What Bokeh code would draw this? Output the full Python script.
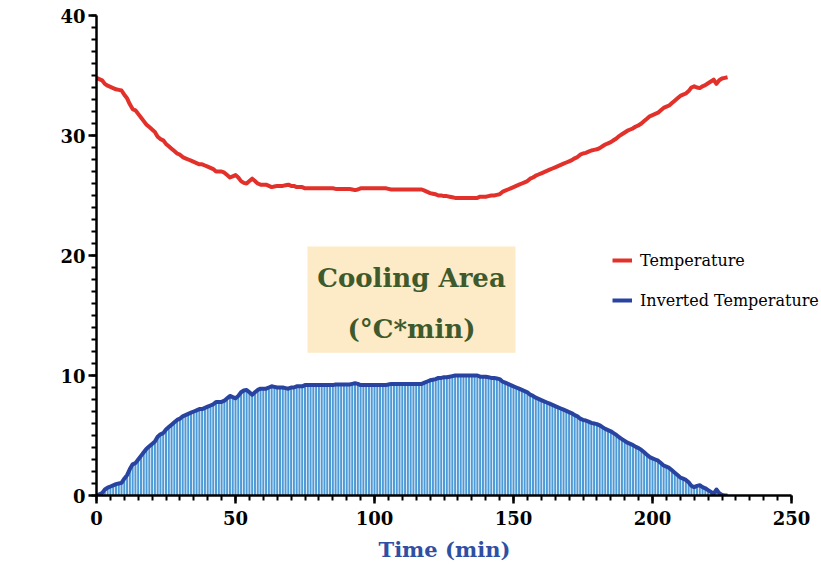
from bokeh.plotting import figure
from bokeh.models import (ColumnDataSource, SingleIntervalTicker, BoxAnnotation, Label, Range1d,
                          Legend, LegendItem, Title)
from bokeh.embed import file_html
from bokeh.resources import INLINE

# ---- data ----
time_min = list(range(0, 228))

temperature = [
    34.8, 34.7, 34.6, 34.3, 34.15, 34.05, 33.95, 33.85, 33.8, 33.75,
    33.4, 33.1, 32.6, 32.2, 32.1, 31.8, 31.5, 31.2, 30.9, 30.7,
    30.5, 30.3, 29.9, 29.7, 29.6, 29.3, 29.1, 28.9, 28.7, 28.5,
    28.4, 28.2, 28.1, 28.0, 27.9, 27.8, 27.7, 27.6, 27.6, 27.5,
    27.4, 27.3, 27.2, 27.0, 27.0, 27.0, 26.9, 26.7, 26.5, 26.6,
    26.7, 26.5, 26.2, 26.05, 26.0, 26.2, 26.4, 26.2, 26.0, 25.9,
    25.9, 25.9, 25.8, 25.7, 25.75, 25.8, 25.8, 25.8, 25.85, 25.9,
    25.8, 25.8, 25.7, 25.7, 25.7, 25.6, 25.6, 25.6, 25.6, 25.6,
    25.6, 25.6, 25.6, 25.6, 25.6, 25.6, 25.55, 25.55, 25.55, 25.55,
    25.55, 25.55, 25.5, 25.45, 25.5, 25.6, 25.6, 25.6, 25.6, 25.6,
    25.6, 25.6, 25.6, 25.6, 25.6, 25.55, 25.5, 25.5, 25.5, 25.5,
    25.5, 25.5, 25.5, 25.5, 25.5, 25.5, 25.5, 25.5, 25.4, 25.3,
    25.2, 25.15, 25.1, 25.0, 25.0, 24.95, 24.95, 24.9, 24.85, 24.8,
    24.8, 24.8, 24.8, 24.8, 24.8, 24.8, 24.8, 24.8, 24.9, 24.9,
    24.9, 24.95, 25.0, 25.0, 25.05, 25.1, 25.3, 25.4, 25.5, 25.6,
    25.7, 25.8, 25.9, 26.0, 26.1, 26.2, 26.4, 26.5, 26.65, 26.75,
    26.85, 26.95, 27.05, 27.15, 27.25, 27.35, 27.45, 27.55, 27.65, 27.75,
    27.85, 27.95, 28.1, 28.2, 28.4, 28.5, 28.55, 28.65, 28.75, 28.8,
    28.85, 28.95, 29.1, 29.25, 29.35, 29.45, 29.6, 29.75, 29.95, 30.1,
    30.25, 30.4, 30.5, 30.6, 30.75, 30.85, 31.0, 31.2, 31.4, 31.6,
    31.7, 31.8, 31.9, 32.1, 32.3, 32.4, 32.5, 32.7, 32.9, 33.1,
    33.3, 33.4, 33.5, 33.7, 34.0, 34.1, 34.0, 33.95, 34.1, 34.2,
    34.35, 34.5, 34.65, 34.3, 34.6, 34.75, 34.8, 34.85,
]

inverted_temperature = [
    0.0, 0.1, 0.2, 0.5, 0.65, 0.75, 0.85, 0.95, 1.0, 1.05,
    1.4, 1.7, 2.2, 2.6, 2.7, 3.0, 3.3, 3.6, 3.9, 4.1,
    4.3, 4.5, 4.9, 5.1, 5.2, 5.5, 5.7, 5.9, 6.1, 6.3,
    6.4, 6.6, 6.7, 6.8, 6.9, 7.0, 7.1, 7.2, 7.2, 7.3,
    7.4, 7.5, 7.6, 7.8, 7.8, 7.8, 7.9, 8.1, 8.3, 8.2,
    8.1, 8.3, 8.6, 8.75, 8.8, 8.6, 8.4, 8.6, 8.8, 8.9,
    8.9, 8.9, 9.0, 9.1, 9.05, 9.0, 9.0, 9.0, 8.95, 8.9,
    9.0, 9.0, 9.1, 9.1, 9.1, 9.2, 9.2, 9.2, 9.2, 9.2,
    9.2, 9.2, 9.2, 9.2, 9.2, 9.2, 9.25, 9.25, 9.25, 9.25,
    9.25, 9.25, 9.3, 9.35, 9.3, 9.2, 9.2, 9.2, 9.2, 9.2,
    9.2, 9.2, 9.2, 9.2, 9.2, 9.25, 9.3, 9.3, 9.3, 9.3,
    9.3, 9.3, 9.3, 9.3, 9.3, 9.3, 9.3, 9.3, 9.4, 9.5,
    9.6, 9.65, 9.7, 9.8, 9.8, 9.85, 9.85, 9.9, 9.95, 10.0,
    10.0, 10.0, 10.0, 10.0, 10.0, 10.0, 10.0, 10.0, 9.9, 9.9,
    9.9, 9.85, 9.8, 9.8, 9.75, 9.7, 9.5, 9.4, 9.3, 9.2,
    9.1, 9.0, 8.9, 8.8, 8.7, 8.6, 8.4, 8.3, 8.15, 8.05,
    7.95, 7.85, 7.75, 7.65, 7.55, 7.45, 7.35, 7.25, 7.15, 7.05,
    6.95, 6.85, 6.7, 6.6, 6.4, 6.3, 6.25, 6.15, 6.05, 6.0,
    5.95, 5.85, 5.7, 5.55, 5.45, 5.35, 5.2, 5.05, 4.85, 4.7,
    4.55, 4.4, 4.3, 4.2, 4.05, 3.95, 3.8, 3.6, 3.4, 3.2,
    3.1, 3.0, 2.9, 2.7, 2.5, 2.4, 2.3, 2.1, 1.9, 1.7,
    1.5, 1.4, 1.3, 1.1, 0.8, 0.7, 0.8, 0.85, 0.7, 0.6,
    0.45, 0.3, 0.15, 0.5, 0.2, 0.05, 0.0, 0.0,
]

x_axis_max = 250
y_axis_max = 40
x_tick_interval = 50
y_tick_interval = 10
series_labels = ["Temperature", "Inverted Temperature"]
annotation_lines = ["Cooling Area", "(°C*min)"]
x_title = "Time (min)"

# ---- styling ----
RED = "#e2312a"
DARK_BLUE = "#2843a0"
BAR_BLUE = "#4d9ad6"
LABEL_BLUE = "#2f4fa3"
BOX_FILL = "#fdeac6"
GREEN = "#3e5a2c"
SERIF = "DejaVu Serif"

src = ColumnDataSource(dict(t=time_min, temp=temperature, inv=inverted_temperature))

# frame spans the full right side; the axis itself stops at 250 (bounds)
FRAME_W = 821 - 96
AXIS_W = 695
p = figure(width=821, height=569, output_backend="svg", toolbar_location=None,
           x_range=Range1d(0, x_axis_max * FRAME_W / AXIS_W), y_range=Range1d(0, y_axis_max),
           min_border_left=96, min_border_right=0, min_border_top=15, min_border_bottom=74)
p.outline_line_color = None
p.grid.visible = False
p.background_fill_color = "white"
p.border_fill_color = "white"

bars = p.vbar(x="t", top="inv", width=0.72, bottom=0, source=src,
              fill_color=BAR_BLUE, line_color=None)
inv_line = p.line("t", "inv", source=src, line_color=DARK_BLUE, line_width=4,
                  line_join="round")
temp_line = p.line("t", "temp", source=src, line_color=RED, line_width=4,
                   line_join="round")

for ax in (p.xaxis[0], p.yaxis[0]):
    ax.axis_line_color = "black"
    ax.axis_line_width = 2.5
    ax.major_tick_line_color = "black"
    ax.major_tick_line_width = 2.5
    ax.minor_tick_line_color = "black"
    ax.minor_tick_line_width = 2
    ax.major_tick_in = 0
    ax.major_tick_out = 8
    ax.minor_tick_in = 0
    ax.minor_tick_out = 5
    ax.major_label_text_font = SERIF
    ax.major_label_text_font_style = "bold"
    ax.major_label_text_font_size = "18px"
    ax.major_label_text_color = "black"

p.xaxis[0].bounds = (0, x_axis_max)
p.xaxis[0].ticker = SingleIntervalTicker(interval=x_tick_interval, num_minor_ticks=10)
p.yaxis[0].ticker = SingleIntervalTicker(interval=y_tick_interval, num_minor_ticks=10)
p.xaxis[0].major_label_standoff = 7
p.yaxis[0].major_label_standoff = 3

# x label as a below-title, shifted so it is centred under the 0-250 axis
p.add_layout(Title(text=x_title, align="left", offset=282, text_font=SERIF,
                   text_font_style="bold", text_font_size="21px", text_color=LABEL_BLUE,
                   standoff=14), "below")

# y label (offset upward like the reference)
p.add_layout(Label(x=-28, y=24.2, text="Temperature", angle=1.5707963, angle_units="rad",
                   text_align="center", text_baseline="middle", text_font=SERIF,
                   text_font_style="bold", text_font_size="21px", text_color=LABEL_BLUE))

# annotation box
p.add_layout(BoxAnnotation(left=75.9, right=150.7, bottom=11.9, top=20.75,
                           fill_color=BOX_FILL, fill_alpha=1, line_color=None, level="underlay"))
p.add_layout(Label(x=113.3, y=18.1, text=annotation_lines[0], text_align="center",
                   text_baseline="middle", text_font=SERIF, text_font_style="bold",
                   text_font_size="26px", text_color=GREEN))
p.add_layout(Label(x=113.3, y=13.9, text=annotation_lines[1], text_align="center",
                   text_baseline="middle", text_font=SERIF, text_font_style="bold",
                   text_font_size="26px", text_color=GREEN))

legend = Legend(items=[LegendItem(label=series_labels[0], renderers=[temp_line]),
                       LegendItem(label=series_labels[1], renderers=[inv_line])],
                location=(516, 185), orientation="vertical",
                border_line_color=None, background_fill_alpha=0,
                padding=0, margin=0, spacing=20, glyph_width=20, glyph_height=20,
                label_standoff=8, label_text_font=SERIF, label_text_font_size="16px",
                label_text_color="black", label_height=20)
p.add_layout(legend, "center")

open("out.html", "w").write(file_html(p, INLINE))
